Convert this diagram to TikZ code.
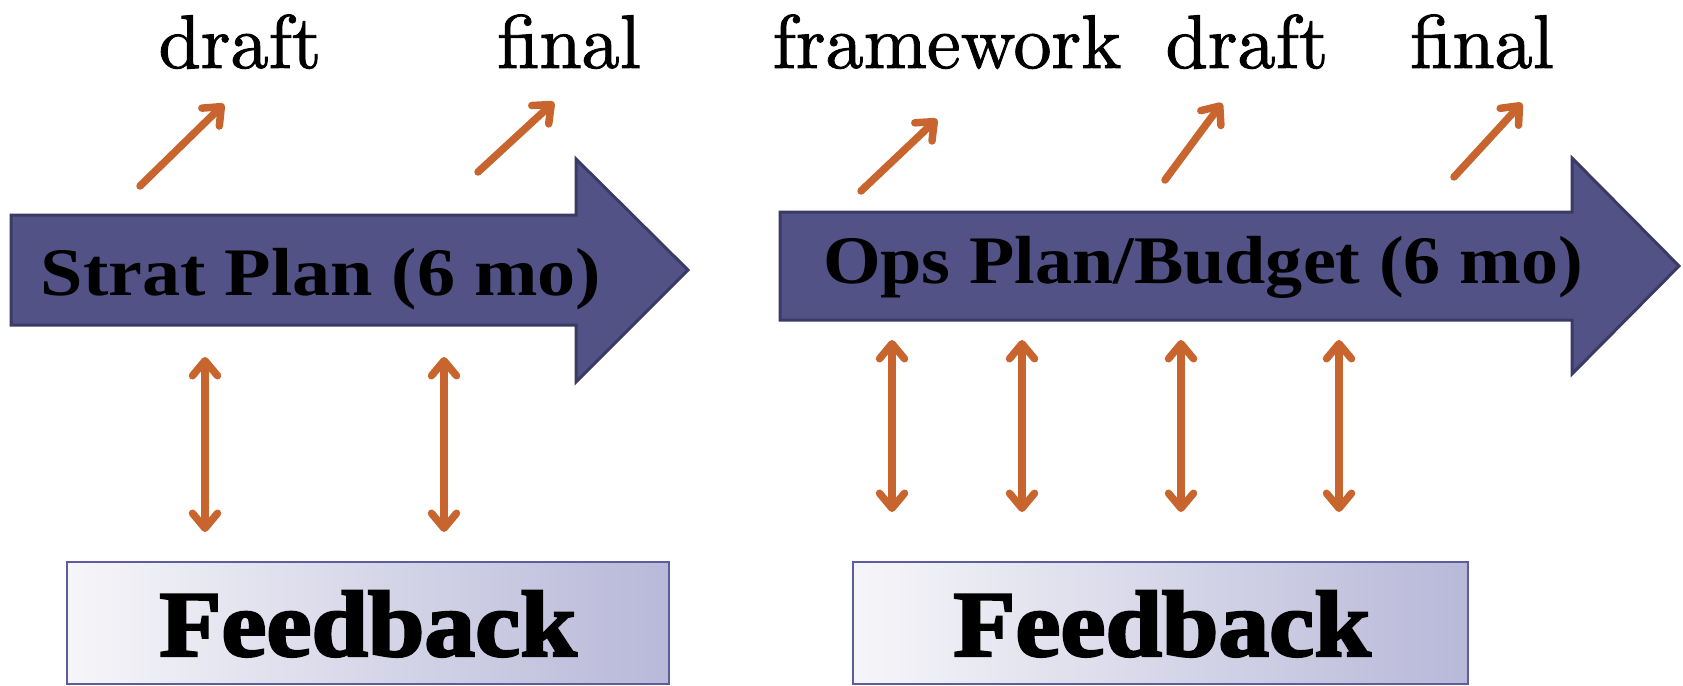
\documentclass[tikz,border=0pt]{standalone}
\usepackage{fontspec}
\usepackage{graphicx}
\usetikzlibrary{arrows.meta}
\newfontfamily\headfont{Liberation Serif}
\newfontfamily\fbfont{Liberation Serif Bold}[RawFeature={embolden=2.5}]
\newfontfamily\labelfont{lmroman10-regular.otf}[RawFeature={embolden=1.2}]
\definecolor{arrowfill}{HTML}{525287}
\definecolor{arrowdraw}{HTML}{3A3A66}
\definecolor{orng}{HTML}{C8652F}
\definecolor{fbleft}{HTML}{F6F6F9}
\definecolor{fbright}{HTML}{B8B8D9}
\definecolor{fbdraw}{HTML}{5C5C9E}
\tikzset{
  bigarrow/.style={fill=arrowfill, draw=arrowdraw, line width=3pt, line join=miter},
  orngtip/.tip={Straight Barb[length=15pt,width=25pt,round]},
  link/.style={draw=orng, line width=7.5pt, line cap=round, -orngtip},
  both/.style={draw=orng, line width=7.5pt, orngtip-orngtip},
  label/.style={inner sep=0pt, anchor=base, font=\labelfont\fontsize{76}{82}\selectfont},
  title/.style={inner sep=0pt, anchor=base, font=\headfont\bfseries\fontsize{68}{76}\selectfont},
  fbbox/.style={draw=fbdraw, line width=2pt, left color=fbleft, right color=fbright, shading angle=90},
  fbtext/.style={inner sep=0pt, anchor=base, font=\fbfont\fontsize{94}{100}\selectfont},
}
\begin{document}
\begin{tikzpicture}[x=1pt,y=-1pt]
\useasboundingbox (0,0) rectangle (1683,685);
% big arrows
\draw[bigarrow] (11,215) -- (576,215) -- (576,159) -- (688,270) -- (576,382) -- (576,325) -- (11,325) -- cycle;
\draw[bigarrow] (780,212) -- (1572,212) -- (1572,158) -- (1679,266) -- (1572,374) -- (1572,320) -- (780,320) -- cycle;
\node[title] (strat) at (321,295) {\scalebox{1.12}[1]{Strat Plan (6 mo)}};
\node[title] (ops) at (1203,283) {\scalebox{1.09}[1]{Ops Plan/Budget (6 mo)}};
% top labels
\node[label] (draftL) at (240,68) {draft};
\node[label] (finalL) at (569,68) {final};
\node[label] (frame) at (947,68) {framework};
\node[label] (draftR) at (1247,68) {draft};
\node[label] (finalR) at (1482,68) {final};
% diagonal arrow end points
\coordinate (a1s) at (140,186); \coordinate (a1e) at (224,104);
\coordinate (a2s) at (478,172); \coordinate (a2e) at (554,102);
\coordinate (a3s) at (861,191); \coordinate (a3e) at (937,119);
\coordinate (a4s) at (1165,180); \coordinate (a4e) at (1222,103);
\coordinate (a5s) at (1454,177); \coordinate (a5e) at (1522,103);
\draw[link] (a1s) -- (a1e);
\draw[link] (a2s) -- (a2e);
\draw[link] (a3s) -- (a3e);
\draw[link] (a4s) -- (a4e);
\draw[link] (a5s) -- (a5e);
% feedback boxes
\path[fbbox] (67,562) rectangle (669,684);
\path[fbbox] (853,562) rectangle (1468,684);
\node[fbtext] (fbL) at (368,656) {\scalebox{1.08}[1]{Feedback}};
\node[fbtext] (fbR) at (1162,656) {\scalebox{1.08}[1]{Feedback}};
% double arrows
\foreach \n/\x/\ya/\yb in {d1/205/357/532, d2/444/357/532, d3/892/340/512, d4/1022/340/512, d5/1181/340/512, d6/1339/340/512}{
  \coordinate (\n t) at (\x,\ya);
  \coordinate (\n b) at (\x,\yb);
  \draw[both] (\n t) -- (\n b);
}
\end{tikzpicture}
\end{document}
